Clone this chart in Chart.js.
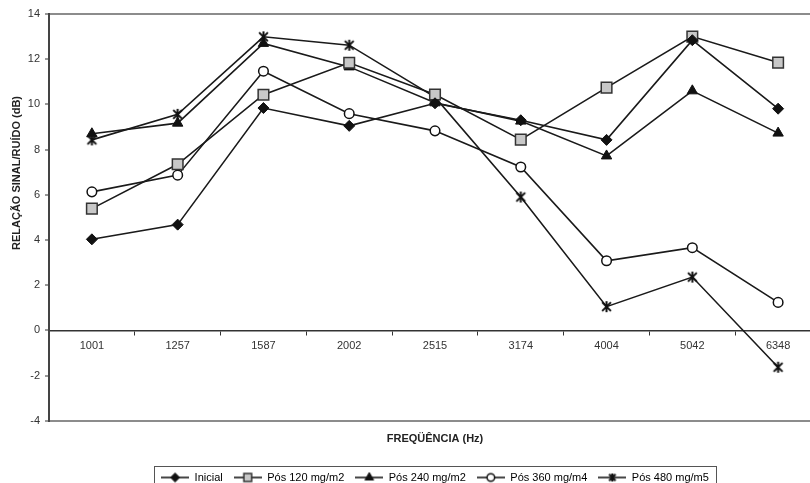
<!DOCTYPE html>
<html>
<head>
<meta charset="utf-8">
<script src="https://cdn.jsdelivr.net/npm/chart.js@4.4.0/dist/chart.umd.min.js"></script>
<style>
  html, body { margin: 0; padding: 0; background: #fff; }
  body { width: 810px; height: 483px; overflow: hidden; }
  #wrap { width: 840px; height: 493px; }
</style>
</head>
<body>
<div id="wrap"><canvas id="grafico" width="840" height="493"></canvas></div>
<script>
// dados
const frequencias = ['1001', '1257', '1587', '2002', '2515', '3174', '4004', '5042', '6348'];
const inicial = [4.03, 4.68, 9.84, 9.05, 10.05, 9.3, 8.43, 12.84, 9.81];
const pos120 = [5.39, 7.35, 10.43, 11.84, 10.44, 8.44, 10.74, 13.0, 11.85];
const pos240 = [8.7, 9.17, 12.7, 11.66, 10.07, 9.26, 7.72, 10.6, 8.73];
const pos360 = [6.13, 6.87, 11.47, 9.59, 8.83, 7.23, 3.08, 3.66, 1.24];
const pos480 = [8.43, 9.56, 12.99, 12.62, 10.32, 5.9, 1.05, 2.36, -1.63];
const ticksY = [-4, -2, 0, 2, 4, 6, 8, 10, 12, 14];
const nomes = ['Inicial', 'Pós 120 mg/m2', 'Pós 240 mg/m2', 'Pós 360 mg/m4', 'Pós 480 mg/m5'];

Chart.defaults.font.family = '"Liberation Sans", Arial, sans-serif';
Chart.defaults.font.size = 11;
Chart.defaults.color = '#222';

const corLinha = '#1a1a1a';

// asterisco do Excel (X com traco vertical)
function criarAsterisco(tam, lw) {
  const c = document.createElement('canvas');
  c.width = tam;
  c.height = tam;
  const ctx = c.getContext('2d');
  const m = tam / 2, r = tam / 2 - 1;
  ctx.strokeStyle = '#111';
  ctx.lineWidth = lw;
  ctx.beginPath();
  ctx.moveTo(m - r * 0.8, m - r * 0.8); ctx.lineTo(m + r * 0.8, m + r * 0.8);
  ctx.moveTo(m + r * 0.8, m - r * 0.8); ctx.lineTo(m - r * 0.8, m + r * 0.8);
  ctx.moveTo(m, m - r); ctx.lineTo(m, m + r);
  ctx.stroke();
  return c;
}

// estilo de cada marcador
const marcadores = [
  { pointStyle: 'rectRot', radius: 5.5, bg: '#111', border: '#111', bw: 1, legRadius: 4.5 },
  { pointStyle: 'rect', radius: 7.5, bg: '#c8c8c8', border: '#333', bw: 1.5, legRadius: 5.5 },
  { pointStyle: 'triangle', radius: 6, bg: '#111', border: '#111', bw: 1, legRadius: 5 },
  { pointStyle: 'circle', radius: 4.8, bg: '#fff', border: '#111', bw: 1.5, legRadius: 3.8 },
  { pointStyle: criarAsterisco(13, 2), radius: 6, bg: '#111', border: '#111', bw: 2, legIcon: criarAsterisco(10, 2) }
];

// icones da legenda: linha com o marcador no meio (estilo Excel)
function criarIcone(m) {
  const c = document.createElement('canvas');
  c.width = 28;
  c.height = 12;
  const ctx = c.getContext('2d');
  ctx.strokeStyle = corLinha;
  ctx.lineWidth = 1.6;
  ctx.beginPath();
  ctx.moveTo(0, 6);
  ctx.lineTo(28, 6);
  ctx.stroke();
  if (m.legIcon) {
    ctx.drawImage(m.legIcon, 14 - m.legIcon.width / 2, 6 - m.legIcon.height / 2);
    return c;
  }
  ctx.fillStyle = m.bg;
  ctx.strokeStyle = m.border;
  ctx.lineWidth = m.bw;
  Chart.helpers.drawPoint(ctx, { pointStyle: m.pointStyle, radius: m.legRadius, rotation: 0, borderWidth: m.bw }, 14, 6);
  return c;
}
const iconesLegenda = marcadores.map(criarIcone);

const series = [inicial, pos120, pos240, pos360, pos480];

const datasets = series.map((valores, i) => ({
  label: nomes[i],
  data: valores,
  borderColor: corLinha,
  borderWidth: 1.6,
  tension: 0,
  pointStyle: marcadores[i].pointStyle,
  pointRadius: marcadores[i].radius,
  pointBackgroundColor: marcadores[i].bg,
  pointBorderColor: marcadores[i].border,
  pointBorderWidth: marcadores[i].bw
}));

// borda da legenda e titulo do eixo Y
const extras = {
  id: 'extras',
  afterDraw(chart) {
    const ctx = chart.ctx;
    const hb = chart.legend.legendHitBoxes;
    if (hb && hb.length) {
      const ult = hb[hb.length - 1];
      const esq = hb[0].left - 7;
      const dir = ult.left + ult.width + 7;
      const topo = hb[0].top - 6;
      ctx.save();
      ctx.strokeStyle = '#555';
      ctx.lineWidth = 1;
      ctx.strokeRect(Math.round(esq) + 0.5, Math.round(topo) + 0.5, Math.round(dir - esq), 40);
      ctx.restore();
    }
    ctx.save();
    ctx.translate(17, 173);
    ctx.rotate(-Math.PI / 2);
    ctx.font = 'bold 11px "Liberation Sans", Arial, sans-serif';
    ctx.fillStyle = '#222';
    ctx.textAlign = 'center';
    ctx.textBaseline = 'middle';
    ctx.fillText('RELAÇÃO SINAL/RUÍDO (dB)', 0, 0);
    ctx.restore();
  }
};

new Chart(document.getElementById('grafico'), {
  type: 'line',
  data: { labels: frequencias, datasets: datasets },
  options: {
    responsive: false,
    animation: false,
    layout: { padding: { top: 14, right: 19, left: 0, bottom: 0 } },
    scales: {
      x: {
        type: 'category',
        position: { y: 0 },
        offset: true,
        grid: { offset: true, drawOnChartArea: false, tickLength: 4, tickColor: '#333', tickWidth: 1 },
        border: { color: '#333', width: 1.5 },
        ticks: { padding: 5, color: '#333', maxRotation: 0 }
      },
      y: {
        min: ticksY[0],
        max: ticksY[ticksY.length - 1],
        afterBuildTicks: scale => { scale.ticks = ticksY.map(v => ({ value: v })); },
        afterFit: scale => { scale.width = 49; },
        grid: {
          color: c => (c.tick && (c.tick.value === 14 || c.tick.value === -4)) ? '#8c8c8c' : 'rgba(0,0,0,0)',
          lineWidth: 2,
          tickLength: 4,
          tickColor: '#333',
          tickWidth: 1
        },
        border: { color: '#444', width: 2 },
        ticks: { padding: 5, color: '#333' }
      }
    },
    plugins: {
      tooltip: { enabled: false },
      title: {
        display: true,
        position: 'bottom',
        text: 'FREQÜÊNCIA (Hz)',
        font: { weight: 'bold', size: 11 },
        color: '#222',
        padding: { top: 12, bottom: 15 },
        fullSize: false,
        weight: 500
      },
      legend: {
        position: 'bottom',
        fullSize: false,
        weight: 1000,
        labels: {
          usePointStyle: true,
          pointStyleWidth: 28,
          boxHeight: 11,
          padding: 11,
          color: '#222',
          font: { size: 11 },
          generateLabels: chart => chart.data.datasets.map((ds, i) => ({
            text: ds.label,
            pointStyle: iconesLegenda[i],
            fillStyle: 'rgba(0,0,0,0)',
            strokeStyle: 'rgba(0,0,0,0)',
            lineWidth: 0,
            hidden: false,
            datasetIndex: i
          }))
        }
      }
    }
  },
  plugins: [extras]
});
</script>
</body>
</html>
